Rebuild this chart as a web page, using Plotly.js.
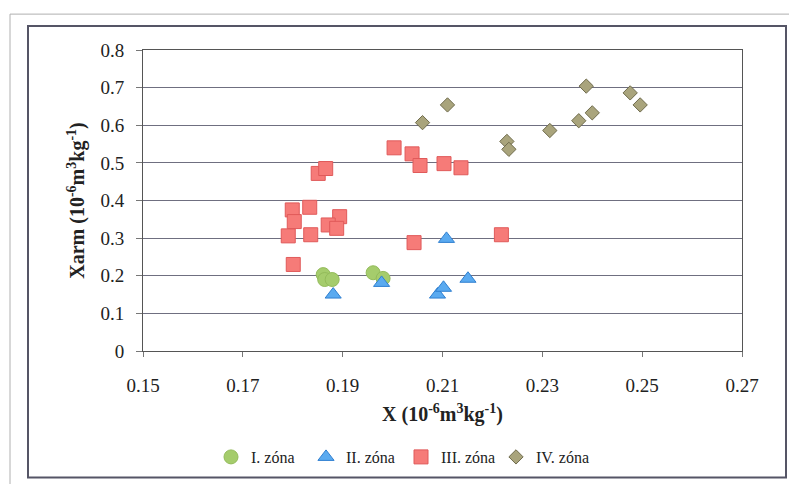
<!DOCTYPE html>
<html>
<head>
<meta charset="utf-8">
<script src="https://cdn.plot.ly/plotly-3.0.1.min.js"></script>
<style>html,body{margin:0;padding:0;background:#fff;}#chart{width:789px;height:484px;}</style>
</head>
<body>
<div id="chart"></div>
<script>
// Zone I (circles)
const zone1X = [0.1861, 0.1864, 0.1879, 0.1961, 0.1981];
const zone1Y = [0.203, 0.190, 0.190, 0.208, 0.193];
// Zone II (triangles)
const zone2X = [0.1881, 0.1978, 0.2090, 0.2102, 0.2108, 0.2151];
const zone2Y = [0.150, 0.181, 0.150, 0.168, 0.298, 0.192];
// Zone III (squares)
const zone3X = [0.1851, 0.1866, 0.1799, 0.1834, 0.1803, 0.1894, 0.1871, 0.1888, 0.1791, 0.1836, 0.1801,
                0.2003, 0.2039, 0.2055, 0.2103, 0.2137, 0.2043, 0.2218];
const zone3Y = [0.472, 0.485, 0.375, 0.382, 0.344, 0.357, 0.335, 0.326, 0.306, 0.309, 0.230,
                0.540, 0.524, 0.493, 0.498, 0.487, 0.288, 0.309];
// Zone IV (diamonds)
const zone4X = [0.2060, 0.2110, 0.2229, 0.2233, 0.2315, 0.2373, 0.2388, 0.2400, 0.2476, 0.2496];
const zone4Y = [0.607, 0.654, 0.557, 0.536, 0.586, 0.612, 0.704, 0.633, 0.686, 0.654];

const seriesNames = ["I. zóna", "II. zóna", "III. zóna", "IV. zóna"];
const xTicks = [0.15, 0.17, 0.19, 0.21, 0.23, 0.25, 0.27];
const yTicks = [0, 0.1, 0.2, 0.3, 0.4, 0.5, 0.6, 0.7, 0.8];

const serif = "Liberation Serif, Times New Roman, serif";

const traces = [
  {x: zone1X, y: zone1Y, name: seriesNames[0], type: "scatter", mode: "markers",
   marker: {symbol: "circle", size: 14, color: "#a5cc6c", line: {color: "#93bb5a", width: 1}}},
  {x: zone2X, y: zone2Y, name: seriesNames[1], type: "scatter", mode: "markers",
   marker: {symbol: "triangle-up", size: 14, color: "#5aaaf0", line: {color: "#2f7fd0", width: 1}}},
  {x: zone3X, y: zone3Y, name: seriesNames[2], type: "scatter", mode: "markers",
   marker: {symbol: "square", size: 14, color: "#f67b78", line: {color: "#e05a5a", width: 1}}},
  {x: zone4X, y: zone4Y, name: seriesNames[3], type: "scatter", mode: "markers",
   marker: {symbol: "diamond", size: 11, color: "#a9a47c", line: {color: "#6f6b4c", width: 1}}}
];

const L = 143, R = 47, T = 50, B = 132;
const W = 789 - L - R, H = 484 - T - B;
function px(v){ return (v - L) / W; }
function py(v){ return (484 - B - v) / H; }

const layout = {
  width: 789, height: 484,
  margin: {l: L, r: R, t: T, b: B},
  paper_bgcolor: "#ffffff", plot_bgcolor: "#ffffff",
  font: {family: serif, color: "#222222"},
  showlegend: true,
  legend: {orientation: "h", x: px(401), xanchor: "center", y: py(457), yanchor: "middle",
           font: {family: serif, size: 16, color: "#222"}, itemwidth: 30,
           entrywidth: 50, entrywidthmode: "pixels", tracegroupgap: 0, bgcolor: "rgba(0,0,0,0)"},
  xaxis: {range: [0.15, 0.27], tickvals: xTicks, ticktext: xTicks.map(v => v.toFixed(2)),
          showgrid: false, zeroline: false, showline: true, linecolor: "#555", linewidth: 1, mirror: true,
          ticks: "outside", ticklen: 5, tickcolor: "#777", ticklabelstandoff: 12,
          tickfont: {family: serif, size: 19, color: "#222"},
          title: {text: "<b>X (10<sup>-6</sup>m<sup>3</sup>kg<sup>-1</sup>)</b>", font: {family: serif, size: 20, color: "#222"}, standoff: 12}},
  yaxis: {range: [0, 0.8], tickvals: yTicks, ticktext: yTicks.map(v => v === 0 ? "0" : v.toFixed(1)),
          showgrid: true, gridcolor: "#6f6f80", gridwidth: 1, zeroline: false,
          showline: true, linecolor: "#555", linewidth: 1, mirror: true,
          ticks: "outside", ticklen: 6, tickcolor: "#777", ticklabelstandoff: 8,
          tickfont: {family: serif, size: 19, color: "#222"},
          title: {text: "<b>Xarm (10<sup>-6</sup>m<sup>3</sup>kg<sup>-1</sup>)</b>", font: {family: serif, size: 20, color: "#222"}, standoff: 10}},
  shapes: [
    {type: "rect", xref: "paper", yref: "paper", x0: px(28), x1: px(786), y0: py(479), y1: py(26),
     line: {color: "#555566", width: 2}, fillcolor: "rgba(0,0,0,0)", layer: "below"},
    {type: "line", xref: "paper", yref: "paper", x0: px(10), x1: px(800), y0: py(14), y1: py(14),
     line: {color: "#b0b0b0", width: 1}},
    {type: "line", xref: "paper", yref: "paper", x0: px(10), x1: px(10), y0: py(14), y1: py(490),
     line: {color: "#b0b0b0", width: 1}}
  ]
};

Plotly.newPlot("chart", traces, layout, {displayModeBar: false, staticPlot: true});
</script>
</body>
</html>
